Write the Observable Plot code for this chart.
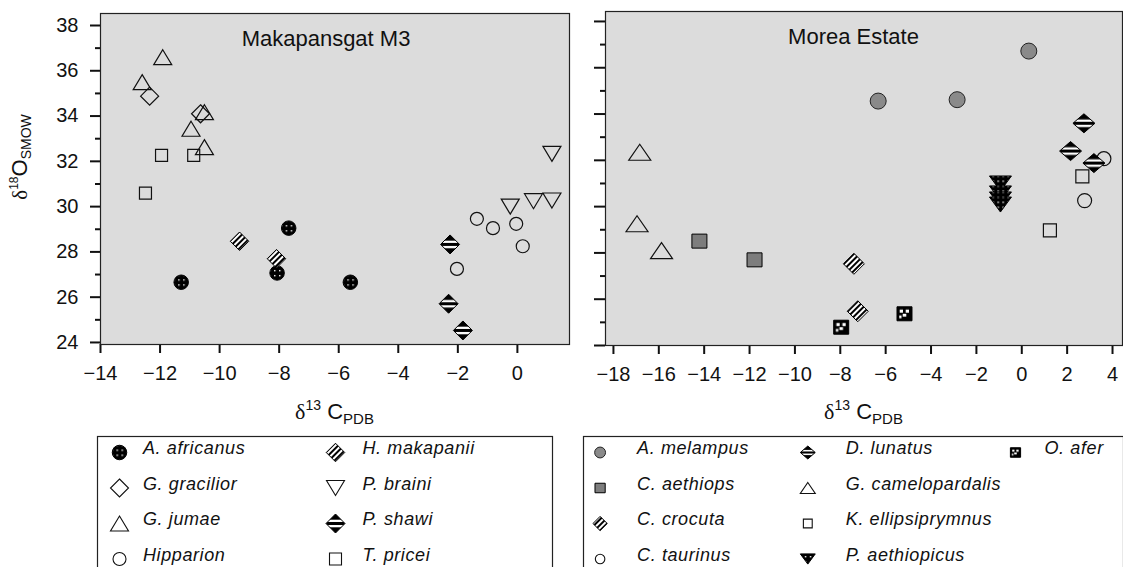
<!DOCTYPE html>
<html><head><meta charset="utf-8">
<script src="https://cdn.jsdelivr.net/npm/d3@7"></script>
<script src="https://cdn.jsdelivr.net/npm/@observablehq/plot@0.6"></script>
<style>
html,body{margin:0;padding:0;background:#fff;}
#root{position:relative;width:1123px;height:567px;overflow:hidden;font-family:"Liberation Sans",Arial,sans-serif;color:#111;}
.lab{position:absolute;white-space:nowrap;line-height:1;color:#111;}
.lab .d{font-family:"Liberation Serif","DejaVu Serif",serif;}
.lab sup{vertical-align:baseline;position:relative;}
.lab sub{vertical-align:baseline;position:relative;}
</style></head><body>
<svg width="0" height="0" style="position:absolute">
<defs>
 <pattern id="pDots" patternUnits="userSpaceOnUse" width="5" height="5">
  <rect width="5" height="5" fill="#000"/><rect x="2" y="2" width="1.4" height="1.4" fill="#fff"/>
 </pattern>
 <pattern id="pH" patternUnits="objectBoundingBox" patternContentUnits="objectBoundingBox" width="1" height="1">
  <rect width="1" height="1" fill="#fff"/>
  <rect y="0" width="1" height="0.3" fill="#000"/>
  <rect y="0.42" width="1" height="0.16" fill="#000"/>
  <rect y="0.7" width="1" height="0.3" fill="#000"/>
 </pattern>
 <pattern id="pDiag" patternUnits="userSpaceOnUse" width="4" height="4" patternTransform="rotate(45)">
  <rect width="4" height="4" fill="#fff"/><rect width="2" height="4" fill="#000"/>
 </pattern>
 <pattern id="pAfer" patternUnits="objectBoundingBox" patternContentUnits="objectBoundingBox" width="1" height="1">
  <rect width="1" height="1" fill="#000"/>
  <rect x="0.18" y="0.2" width="0.22" height="0.22" fill="#fff"/>
  <rect x="0.58" y="0.2" width="0.22" height="0.22" fill="#fff"/>
  <rect x="0.38" y="0.5" width="0.24" height="0.2" fill="#fff"/>
  <rect x="0.15" y="0.62" width="0.15" height="0.2" fill="#fff"/>
 </pattern>
</defs></svg>
<div id="root"></div>
<script>
// ---------- data ----------
const makSpecies = ["A. africanus","G. gracilior","G. jumae","Hipparion","H. makapanii","P. braini","P. shawi","T. pricei"];
const makPointSpecies = [
 "A. africanus","A. africanus","A. africanus","A. africanus",
 "G. gracilior","G. gracilior",
 "G. jumae","G. jumae","G. jumae","G. jumae","G. jumae",
 "Hipparion","Hipparion","Hipparion","Hipparion","Hipparion",
 "H. makapanii","H. makapanii",
 "P. braini","P. braini","P. braini","P. braini",
 "P. shawi","P. shawi","P. shawi",
 "T. pricei","T. pricei","T. pricei"];
const makD13C = [-11.29,-8.07,-7.68,-5.61, -12.35,-10.64, -11.91,-12.60,-10.96,-10.51,-10.51,
 -1.36,-0.82,-0.04,0.18,-2.03, -9.33,-8.09, -0.24,0.54,1.16,1.16, -2.26,-2.31,-1.83, -11.95,-10.87,-12.49];
const makD18O = [26.66,27.07,29.05,26.66, 34.88,34.10, 36.60,35.50,33.44,34.17,32.63,
 29.46,29.05,29.24,28.25,27.25, 28.47,27.70, 30.00,30.24,30.27,32.33, 28.33,25.71,24.53, 32.26,32.26,30.60];

const morSpecies = ["A. melampus","C. aethiops","C. crocuta","C. taurinus","D. lunatus","G. camelopardalis","K. ellipsiprymnus","P. aethiopicus","O. afer"];
const morPointSpecies = [
 "A. melampus","A. melampus","A. melampus",
 "C. aethiops","C. aethiops",
 "C. crocuta","C. crocuta",
 "C. taurinus","C. taurinus",
 "D. lunatus","D. lunatus","D. lunatus",
 "G. camelopardalis","G. camelopardalis","G. camelopardalis",
 "K. ellipsiprymnus","K. ellipsiprymnus",
 "O. afer","O. afer",
 "P. aethiopicus","P. aethiopicus","P. aethiopicus","P. aethiopicus"];
const morD13C = [0.31,-6.33,-2.85, -14.21,-11.78, -7.40,-7.23, 3.62,2.77, 2.74,2.15,3.18,
 -16.84,-16.96,-15.88, 2.67,1.24, -7.96,-5.17, -0.94,-0.94,-0.94,-0.94];
const morD18O = [36.72,34.56,34.62, 28.51,27.70, 27.53,25.48, 32.07,30.26, 33.60,32.40,31.88,
 32.35,29.26,28.10, 31.31,28.97, 24.79,25.37, 31.00,30.57,30.31,30.09];

const makXTicks = [-14,-12,-10,-8,-6,-4,-2,0];
const morXTicks = [-18,-16,-14,-12,-10,-8,-6,-4,-2,0,2,4];
const yMajorTicks = [24,26,28,30,32,34,36,38];
const yMinorTicks = [25,27,29,31,33,35,37];
const makTitle = "Makapansgat M3";
const morTitle = "Morea Estate";

// ---------- styles ----------
const styles = {
 "A. africanus": {kind:"circle", w:14.5, h:14.5, fill:"url(#pDots)", stroke:"#000"},
 "G. gracilior": {kind:"diamond", w:18, h:18, fill:"none", stroke:"#111"},
 "G. jumae": {kind:"up", w:18, h:15, fill:"none", stroke:"#111"},
 "Hipparion": {kind:"circle", w:13, h:13, fill:"none", stroke:"#111"},
 "H. makapanii": {kind:"diamond", w:18.5, h:18.5, fill:"url(#pDiag)", stroke:"#000"},
 "P. braini": {kind:"down", w:18, h:15, fill:"none", stroke:"#111"},
 "P. shawi": {kind:"diamond", w:19, h:19, fill:"url(#pH)", stroke:"#000"},
 "T. pricei": {kind:"square", w:12, h:12, fill:"none", stroke:"#111"},
 "A. melampus": {kind:"circle", w:16, h:16, fill:"#8a8a8a", stroke:"#222"},
 "C. aethiops": {kind:"square", w:15, h:14, fill:"#7d7d7d", stroke:"#000"},
 "C. crocuta": {kind:"diamond", w:21, h:21, fill:"url(#pDiag)", stroke:"#000"},
 "C. taurinus": {kind:"circle", w:14, h:14, fill:"none", stroke:"#111"},
 "D. lunatus": {kind:"diamond", w:22, h:19, fill:"url(#pH)", stroke:"#000"},
 "G. camelopardalis": {kind:"up", w:22, h:16, fill:"none", stroke:"#111"},
 "K. ellipsiprymnus": {kind:"square", w:13, h:13, fill:"none", stroke:"#111"},
 "O. afer": {kind:"square", w:15, h:14, fill:"url(#pAfer)", stroke:"#000"},
 "P. aethiopicus": {kind:"down", w:22, h:15, fill:"url(#pDots)", stroke:"#000"}
};
function shape(kind, w, h) {
  const a = w/2, b = h/2;
  return {draw(ctx) {
    if (kind === "circle") { ctx.moveTo(a,0); ctx.arc(0,0,a,0,2*Math.PI); ctx.closePath(); }
    else if (kind === "square") { ctx.moveTo(-a,-b); ctx.lineTo(a,-b); ctx.lineTo(a,b); ctx.lineTo(-a,b); ctx.closePath(); }
    else if (kind === "diamond") { ctx.moveTo(0,-b); ctx.lineTo(a,0); ctx.lineTo(0,b); ctx.lineTo(-a,0); ctx.closePath(); }
    else if (kind === "up") { ctx.moveTo(0,-b); ctx.lineTo(a,b); ctx.lineTo(-a,b); ctx.closePath(); }
    else if (kind === "down") { ctx.moveTo(0,b); ctx.lineTo(a,-b); ctx.lineTo(-a,-b); ctx.closePath(); }
  }};
}
function speciesDots(speciesList, pointSpecies, xs, ys, k) {
  const idx = pointSpecies.map((d,i)=>i);
  return speciesList.map(sp => {
    const s = styles[sp];
    return Plot.dot(idx.filter(i => pointSpecies[i] === sp), {
      x: i => xs[i], y: i => ys[i], r: 6,
      symbol: shape(s.kind, s.w*k, s.h*k), fill: s.fill, stroke: s.stroke,
      strokeWidth: s.fill === "none" ? 1.2 : 1
    });
  });
}
const root = document.getElementById("root");
const baseStyle = {fontFamily: "Liberation Sans, Arial, sans-serif", fontSize: "20px", color: "#111", background: "transparent", overflow: "visible"};

// ---------- left panel ----------
const left = Plot.plot({
  width: 580, height: 420,
  marginLeft: 100, marginRight: 11, marginTop: 13, marginBottom: 76,
  style: baseStyle,
  x: {domain: [-14, 1.75]},
  y: {domain: [23.91, 38.53]},
  marks: [
    Plot.frame({fill: "#dcdcdc", stroke: null}),
    Plot.axisY(yMajorTicks, {anchor: "left", tickSize: 10, tickPadding: 12, fontSize: 20, strokeWidth: 2, label: null}),
    Plot.axisY(yMinorTicks, {anchor: "left", tickSize: 5, strokeWidth: 2, tickFormat: () => "", label: null}),
    Plot.axisX(makXTicks, {anchor: "bottom", tickSize: 9, tickPadding: 12, fontSize: 20, strokeWidth: 2, label: null}),
    Plot.text([makTitle], {frameAnchor: "top", dx: -9, dy: 32, lineAnchor: "bottom", fontSize: 22, fill: "#111"}),
    ...speciesDots(makSpecies, makPointSpecies, makD13C, makD18O, 1),
    Plot.frame({stroke: "#222", strokeWidth: 1.2})
  ]
});
left.style.position = "absolute"; left.style.left = "0px"; left.style.top = "0px";
root.appendChild(left);

// ---------- right panel ----------
const right = Plot.plot({
  width: 543, height: 420,
  marginLeft: 25, marginRight: 1, marginTop: 11, marginBottom: 75,
  style: baseStyle,
  x: {domain: [-18.35, 4.44]},
  y: {domain: [24.0, 38.43]},
  marks: [
    Plot.frame({fill: "#dcdcdc", stroke: null}),
    Plot.axisY(yMajorTicks, {anchor: "left", tickSize: 11, strokeWidth: 2, tickFormat: () => "", label: null}),
    Plot.axisY(yMinorTicks, {anchor: "left", tickSize: 5, strokeWidth: 2, tickFormat: () => "", label: null}),
    Plot.axisX(morXTicks, {anchor: "bottom", tickSize: 9, tickPadding: 12, fontSize: 20, strokeWidth: 2, label: null}),
    Plot.text([morTitle], {frameAnchor: "top", dx: -10.5, dy: 32, lineAnchor: "bottom", fontSize: 22, fill: "#111"}),
    ...speciesDots(morSpecies, morPointSpecies, morD13C, morD18O, 1),
    Plot.frame({stroke: "#222", strokeWidth: 1.2})
  ]
});
right.style.position = "absolute"; right.style.left = "580px"; right.style.top = "0px";
root.appendChild(right);

// ---------- legends ----------
function legendPlot(speciesList, ncols, xRange, colDx, width, k) {
  const cols = speciesList.map((d,i) => Math.floor(i/4));
  const rows = speciesList.map((d,i) => i % 4);
  const marks = [Plot.frame({stroke: "#222", strokeWidth: 1.2})];
  speciesList.forEach((sp, i) => {
    const s = styles[sp];
    marks.push(Plot.dot([i], {x: j => cols[j], y: j => rows[j], r: 5,
      symbol: shape(s.kind, s.w*k, s.h*k), fill: s.fill, stroke: s.stroke,
      strokeWidth: s.fill === "none" ? 1.1 : 1}));
  });
  colDx.forEach((dx, c) => {
    const names = speciesList.filter((d,i) => cols[i] === c);
    marks.push(Plot.text(names, {x: () => c, y: (d,i) => i, text: d => d,
      dx, dy: -4, textAnchor: "start", fontStyle: "italic", fontSize: 18, fill: "#111"}));
  });
  return Plot.plot({
    width, height: 140, margin: 0,
    style: {...baseStyle, fontSize: "18px", letterSpacing: "0.6px"},
    x: {type: "linear", domain: [0, ncols - 1], range: xRange, axis: null},
    y: {type: "linear", domain: [0, 3], range: [16, 122.5], axis: null},
    marks
  });
}
const legL = legendPlot(makSpecies, 2, [22, 238], [23.5, 27], 455, 1);
legL.style.position = "absolute"; legL.style.left = "97px"; legL.style.top = "436px";
root.appendChild(legL);
const legR = legendPlot(morSpecies, 3, [16.6, 432], [37, 38, 29], 540, 0.68);
legR.style.position = "absolute"; legR.style.left = "583px"; legR.style.top = "436px";
root.appendChild(legR);

// ---------- axis titles ----------
function addLab(html, x, y, rotate) {
  const el = document.createElement("div");
  el.className = "lab";
  el.innerHTML = html;
  el.style.left = x + "px"; el.style.top = y + "px";
  el.style.transform = "translate(-50%,-50%)" + (rotate ? " rotate(-90deg)" : "");
  root.appendChild(el);
}
const xLabHtml = '<span class="d" style="font-size:22px">δ</span><sup style="font-size:14px;top:-9px">13</sup><span style="font-size:22px"> C</span><sub style="font-size:15px;top:5px">PDB</sub>';
addLab(xLabHtml, 334.5, 412, false);
addLab(xLabHtml, 863.5, 412, false);
addLab('<span class="d" style="font-size:21px">δ</span><sup style="font-size:12px;top:-9px">18</sup><span style="font-size:22px">O</span><sub style="font-size:14px;top:4px">SMOW</sub>', 20, 157, true);
</script>
</body></html>
